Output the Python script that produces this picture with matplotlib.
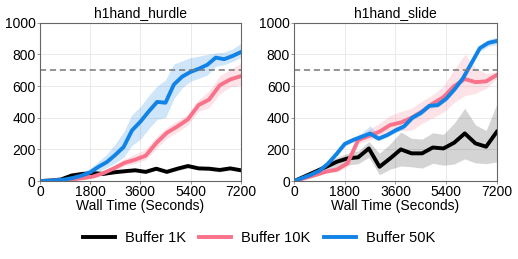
import matplotlib.pyplot as plt
import numpy as np

plt.rcParams['font.family'] = ['Liberation Sans', 'DejaVu Sans']

# time grids (seconds)
t20 = np.linspace(0, 7200, 20)
t25 = np.arange(0, 7201, 300)

# ---- h1hand_hurdle ----
hurdle_1k = [0, 3, 10, 35, 45, 50, 45, 55, 62, 68, 58, 78, 58, 78, 95, 80, 78, 70, 80, 68]
hurdle_1k_lo = [0, 1, 5, 25, 35, 40, 37, 45, 52, 58, 48, 66, 48, 66, 82, 70, 66, 58, 68, 58]
hurdle_1k_hi = [0, 5, 15, 45, 55, 60, 55, 65, 72, 80, 68, 90, 68, 90, 105, 90, 88, 80, 90, 78]

hurdle_10k = [0, 2, 5, 10, 18, 28, 50, 80, 115, 135, 160, 240, 305, 345, 390, 480, 515, 605, 642, 663]
hurdle_10k_lo = [0, 1, 3, 6, 12, 20, 40, 65, 95, 112, 135, 205, 270, 310, 355, 440, 465, 550, 595, 605]
hurdle_10k_hi = [0, 3, 8, 15, 25, 38, 65, 100, 140, 170, 200, 280, 340, 380, 425, 515, 570, 665, 705, 745]

hurdle_50k = [0, 2, 5, 10, 20, 35, 55, 90, 120, 165, 215, 320, 375, 440, 500, 495, 610, 660, 690, 710,
              735, 780, 770, 790, 815]
hurdle_50k_lo = [0, 1, 3, 5, 12, 22, 38, 60, 85, 115, 150, 225, 265, 330, 390, 400, 520, 590, 630, 650,
                 670, 725, 735, 755, 780]
hurdle_50k_hi = [0, 3, 8, 18, 32, 52, 80, 125, 170, 235, 310, 420, 470, 540, 600, 640, 740, 760, 780, 790,
                 800, 810, 815, 835, 870]

# ---- h1hand_slide ----
slide_1k = [0, 30, 60, 90, 122, 143, 150, 206, 90, 143, 200, 175, 175, 212, 206, 242, 301, 238, 217, 311]
slide_1k_lo = [0, 20, 45, 65, 85, 100, 110, 150, 40, 75, 95, 90, 82, 112, 100, 108, 140, 115, 110, 120]
slide_1k_hi = [0, 40, 75, 115, 150, 175, 190, 250, 175, 235, 310, 270, 265, 305, 295, 365, 460, 355, 320, 485]

slide_10k = [0, 18, 38, 60, 72, 112, 259, 285, 312, 354, 370, 400, 440, 490, 530, 600, 645, 625, 630, 670]
slide_10k_lo = [0, 14, 30, 48, 58, 90, 235, 258, 278, 305, 320, 320, 365, 400, 435, 495, 540, 555, 585, 648]
slide_10k_hi = [0, 22, 46, 72, 90, 135, 285, 325, 365, 415, 440, 460, 505, 545, 600, 705, 800, 715, 680, 690]

slide_50k = [0, 20, 40, 65, 110, 170, 235, 260, 280, 300, 268, 290, 320, 345, 400, 430, 475, 480, 520, 580,
             650, 745, 840, 873, 885]
slide_50k_lo = [0, 14, 32, 55, 98, 155, 222, 246, 264, 278, 255, 278, 305, 330, 385, 415, 462, 468, 506, 565,
                632, 725, 818, 852, 862]
slide_50k_hi = [0, 26, 48, 75, 122, 185, 248, 275, 305, 350, 285, 302, 340, 362, 415, 445, 490, 494, 535, 596,
                668, 765, 858, 895, 908]

colors = {'1k': '#000000', '10k': '#f9728a', '50k': '#1283e6'}
labels = {'1k': 'Buffer 1K', '10k': 'Buffer 10K', '50k': 'Buffer 50K'}

panels = [
    ('h1hand_hurdle', {'1k': (t20, hurdle_1k, hurdle_1k_lo, hurdle_1k_hi),
                       '10k': (t20, hurdle_10k, hurdle_10k_lo, hurdle_10k_hi),
                       '50k': (t25, hurdle_50k, hurdle_50k_lo, hurdle_50k_hi)}),
    ('h1hand_slide', {'1k': (t20, slide_1k, slide_1k_lo, slide_1k_hi),
                      '10k': (t20, slide_10k, slide_10k_lo, slide_10k_hi),
                      '50k': (t25, slide_50k, slide_50k_lo, slide_50k_hi)}),
]

fig = plt.figure(figsize=(5.18, 2.59), dpi=100)
axes = [fig.add_axes([0.077, 0.301, 0.388, 0.611]),
        fig.add_axes([0.568, 0.301, 0.391, 0.611])]

for ax, (title, series) in zip(axes, panels):
    for key in ['1k', '10k', '50k']:
        t, m, lo, hi = series[key]
        band_alpha = 0.17 if key == '1k' else 0.2
        ax.fill_between(t, lo, hi, color=colors[key], alpha=band_alpha, lw=0)
        ax.plot(t, m, color=colors[key], lw=2.8, label=labels[key])
    ax.axhline(700, color='#777777', ls='--', lw=1.1, dashes=(4, 2.5))
    ax.set_xlim(0, 7200)
    ax.set_ylim(0, 1000)
    ax.set_xticks([0, 1800, 3600, 5400, 7200])
    ax.set_yticks([0, 200, 400, 600, 800, 1000])
    ax.grid(True, color='#e6e6e6', lw=0.6)
    ax.set_axisbelow(True)
    ax.tick_params(labelsize=10, length=2, width=0.6, color='#888888', pad=1)
    for s in ax.spines.values():
        s.set_color('#666666')
        s.set_linewidth(0.8)
    ax.set_title(title, fontsize=10, pad=4)
    ax.set_xlabel('Wall Time (Seconds)', fontsize=10, labelpad=0)

handles, lbls = axes[0].get_legend_handles_labels()
fig.legend(handles, lbls, loc='center', bbox_to_anchor=(0.5, 0.08), ncol=3, frameon=False,
           fontsize=10.5, handlelength=2.2, columnspacing=0.9, handletextpad=0.7)

fig.savefig('out.png', dpi=100)
